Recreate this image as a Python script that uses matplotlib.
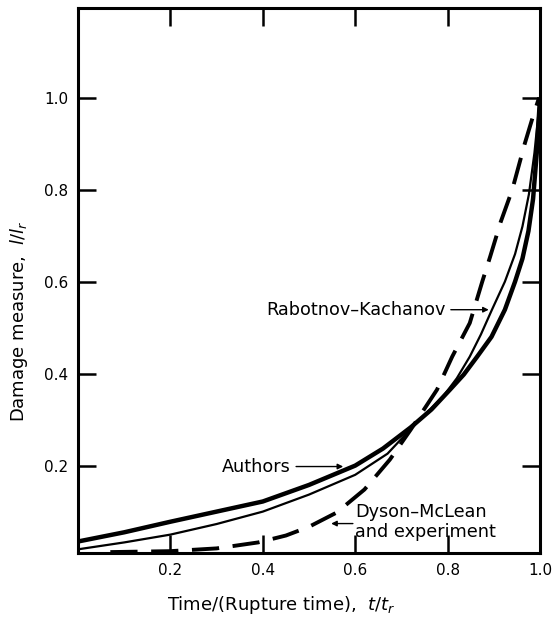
import matplotlib
matplotlib.use("Agg")
import matplotlib.pyplot as plt

# Authors (thick solid)
authors_x = [0.0, 0.1, 0.2, 0.3, 0.4, 0.5, 0.6, 0.66, 0.72, 0.765, 0.805, 0.835, 0.864, 0.895, 0.924, 0.946, 0.962, 0.975, 0.985, 0.993, 1.0]
authors_y = [0.035, 0.055, 0.078, 0.10, 0.122, 0.158, 0.20, 0.237, 0.283, 0.322, 0.365, 0.398, 0.437, 0.48, 0.539, 0.60, 0.65, 0.71, 0.78, 0.88, 1.0]

# Rabotnov-Kachanov (thin solid)
rk_x = [0.0, 0.1, 0.2, 0.3, 0.4, 0.5, 0.6, 0.67, 0.725, 0.79, 0.82, 0.848, 0.872, 0.896, 0.924, 0.946, 0.962, 0.976, 0.988, 1.0]
rk_y = [0.018, 0.033, 0.05, 0.073, 0.10, 0.137, 0.18, 0.226, 0.285, 0.35, 0.39, 0.437, 0.485, 0.539, 0.60, 0.66, 0.72, 0.79, 0.88, 1.0]

# Dyson-McLean and experiment (dashed)
dm_x = [0.07, 0.2, 0.3, 0.39, 0.45, 0.5, 0.56, 0.62, 0.675, 0.72, 0.777, 0.81, 0.848, 0.875, 0.892, 0.915, 0.94, 0.967, 0.985, 0.998]
dm_y = [0.012, 0.014, 0.02, 0.033, 0.048, 0.067, 0.098, 0.148, 0.213, 0.278, 0.365, 0.437, 0.51, 0.60, 0.654, 0.73, 0.80, 0.90, 0.96, 1.0]

xticks = [0.2, 0.4, 0.6, 0.8, 1.0]
yticks = [0.2, 0.4, 0.6, 0.8, 1.0]
xtick_labels = ["0.2", "0.4", "0.6", "0.8", "1.0"]
ytick_labels = ["0.2", "0.4", "0.6", "0.8", "1.0"]

fig = plt.figure(figsize=(5.54, 6.2), dpi=100)
ax = fig.add_axes([78/554, 1-553/620, (540-78)/554, (553-8)/620])

ax.plot(authors_x, authors_y, color="black", lw=3.2, solid_capstyle="butt", solid_joinstyle="round")
ax.plot(rk_x, rk_y, color="black", lw=1.6, solid_joinstyle="round")
ax.plot(dm_x, dm_y, color="black", lw=2.8, dashes=(7, 3.5))

ax.set_xlim(0, 1.0)
ax.set_ylim(0.01, 1.195)
ax.set_xticks(xticks)
ax.set_xticklabels(xtick_labels)
ax.set_yticks(yticks)
ax.set_yticklabels(ytick_labels)
ax.tick_params(direction="in", length=13, width=1.8, top=True, right=True,
               labelsize=11, pad=7)
for s in ax.spines.values():
    s.set_linewidth(2.2)

ax.set_xlabel("Time/(Rupture time),  $t/t_r$", fontsize=13, labelpad=11)
ax.xaxis.set_label_coords(0.44, -0.075)
ax.set_ylabel("Damage measure,  $l/l_r$", fontsize=13)
ax.yaxis.set_label_coords(-0.104, 0.426)

fs = 12.7
arrow = dict(arrowstyle="-|>", color="black", lw=1.0, mutation_scale=8, shrinkA=2, shrinkB=0)
ax.annotate("Rabotnov\u2013Kachanov", xy=(0.889, 0.539), xytext=(0.795, 0.539),
            fontsize=fs, ha="right", va="center", arrowprops=arrow)
ax.annotate("Authors", xy=(0.574, 0.198), xytext=(0.46, 0.198),
            fontsize=fs, ha="right", va="center", arrowprops=arrow)
ax.annotate("", xy=(0.548, 0.074), xytext=(0.595, 0.074),
            arrowprops=dict(arrowstyle="-|>", color="black", lw=1.0, mutation_scale=8, shrinkA=0, shrinkB=0))
ax.text(0.6, 0.1, "Dyson\u2013McLean", fontsize=fs, ha="left", va="center")
ax.text(0.6, 0.055, "and experiment", fontsize=fs, ha="left", va="center")

fig.savefig("out.png", dpi=100)
